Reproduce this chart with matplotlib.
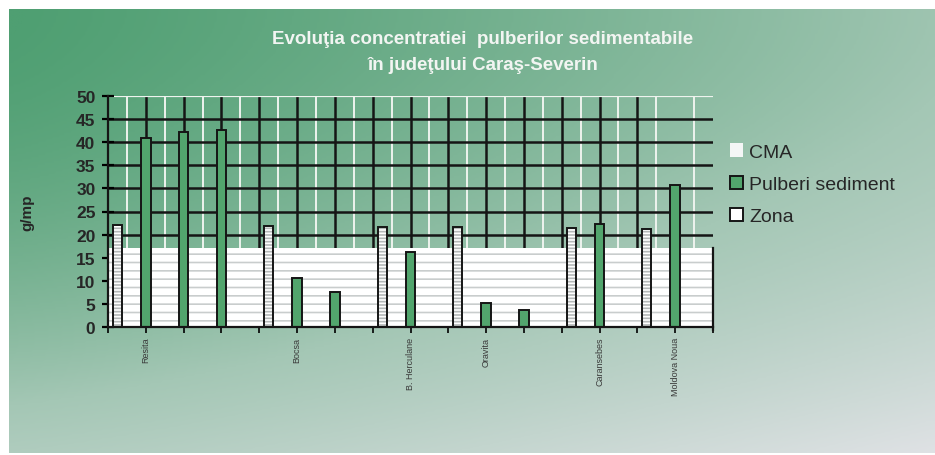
import numpy as np
import matplotlib.pyplot as plt
from matplotlib.colors import LinearSegmentedColormap
from matplotlib.patches import Patch

plt.rcParams['font.family'] = ['Liberation Sans', 'DejaVu Sans']
plt.rcParams['hatch.linewidth'] = 1.2

# category slots along the x axis (labels only on some of them)
categories = ['', 'Resita', '', '', '', 'Bocsa', '', '', 'B. Herculane', '',
              'Oravita', '', '', 'Caransebes', '', 'Moldova Noua', '']
nan = np.nan
pulberi = [nan, 41.0, 42.2, 42.6, nan, 10.5, 7.6, nan, 16.2, nan,
           5.2, 3.7, nan, 22.4, nan, 30.7, nan]
zona = [22.0, nan, nan, nan, 21.9, nan, nan, 21.7, nan, 21.7,
        nan, nan, 21.4, nan, 21.3, nan, nan]
cma = 17.0

GREEN = '#52a56d'

fig = plt.figure(figsize=(9.35, 4.56), dpi=100, facecolor='white')

# scanned page background: green fading to grey
bg = fig.add_axes([9 / 935, 2 / 456, 926 / 935, 444 / 456], zorder=-5)
yy, xx = np.mgrid[0:1:200j, 0:1:400j]
t = np.clip(0.42 * xx ** 1.2 + 0.55 * yy ** 1.8, 0, 1)
cmap = LinearSegmentedColormap.from_list(
    'bg', [(0, '#4f9f72'), (0.45, '#a4c7b5'), (1, '#e2e3e7')])
bg.imshow(t, cmap=cmap, vmin=0, vmax=1, aspect='auto', interpolation='bilinear')
bg.axis('off')

ax = fig.add_axes([108 / 935, 1 - 328 / 456, 605 / 935, 231 / 456])
ax.set_facecolor('none')

x = np.arange(len(categories))
ax.set_xlim(0, len(categories) - 1)
ax.set_ylim(0, 50)

# grid: black lines on ticks, white lines in between
ax.vlines(x[1:-2], 0, 50, color='#151515', lw=1.8, zorder=1)
ax.vlines(x[:-1] + 0.5, 0, 50, color='#eef3ee', lw=1.4, zorder=1)
ax.hlines(np.arange(5, 50, 5), 0, x[-1], color='#151515', lw=1.8, zorder=1)
ax.axhline(50, color='#eef3ee', lw=1.6, zorder=1)

# CMA band
ax.fill_between([0, x[-1]], 0, cma, facecolor='white', edgecolor='#c9cdcd',
                hatch='--', lw=0, zorder=2)
ax.plot([x[-1], x[-1]], [-0.6, cma], color='#151515', lw=1.6, zorder=2,
        clip_on=False)

ax.bar(x, pulberi, width=0.25, color=GREEN, edgecolor='#151515', lw=1.4, zorder=3)
ax.bar(x + 0.25, zona, width=0.24, color='white', edgecolor='#b5b9b9',
       hatch='-----', lw=0, zorder=3)
ax.bar(x + 0.25, zona, width=0.24, color='none', edgecolor='#151515', lw=1.4,
       zorder=3)

for s in ['top', 'right']:
    ax.spines[s].set_visible(False)
for s in ['left', 'bottom']:
    ax.spines[s].set_linewidth(1.6)
    ax.spines[s].set_color('#151515')
    ax.spines[s].set_zorder(4)

ax.set_yticks(np.arange(0, 51, 5))
ax.tick_params(axis='y', direction='inout', length=8, width=1.6, pad=5,
               labelsize=12.5, labelcolor='#262626')
for lab in ax.get_yticklabels():
    lab.set_fontweight('bold')
ax.set_xticks(x)
ax.set_xticklabels(categories, rotation=90, fontsize=6.5, color='#3a3a3a')
ax.tick_params(axis='x', direction='out', length=4, width=1.2, pad=3)

ax.set_ylabel('g/mp', fontsize=11, fontweight='bold', color='#262626', labelpad=30)

fig.text(483 / 935, 1 - 40 / 456, 'Evoluţia concentratiei  pulberilor sedimentabile',
         ha='center', va='center', color='#f2f5f2', fontsize=13.5, fontweight='bold')
fig.text(483 / 935, 1 - 66 / 456, 'în judeţului Caraş-Severin',
         ha='center', va='center', color='#f2f5f2', fontsize=13.5, fontweight='bold')

handles = [Patch(facecolor='#f4f6f6', edgecolor='none'),
           Patch(facecolor=GREEN, edgecolor='#151515', lw=1.4),
           Patch(facecolor='white', edgecolor='#151515', lw=1.4)]
fig.legend(handles, ['CMA', 'Pulberi sediment', 'Zona'], loc='upper left',
           bbox_to_anchor=(712 / 935, 1 - 127 / 456), frameon=False,
           fontsize=14, handlelength=0.7, handleheight=0.7, handletextpad=0.3,
           labelspacing=0.75, labelcolor='#262626')

fig.savefig('out.png', dpi=100)
